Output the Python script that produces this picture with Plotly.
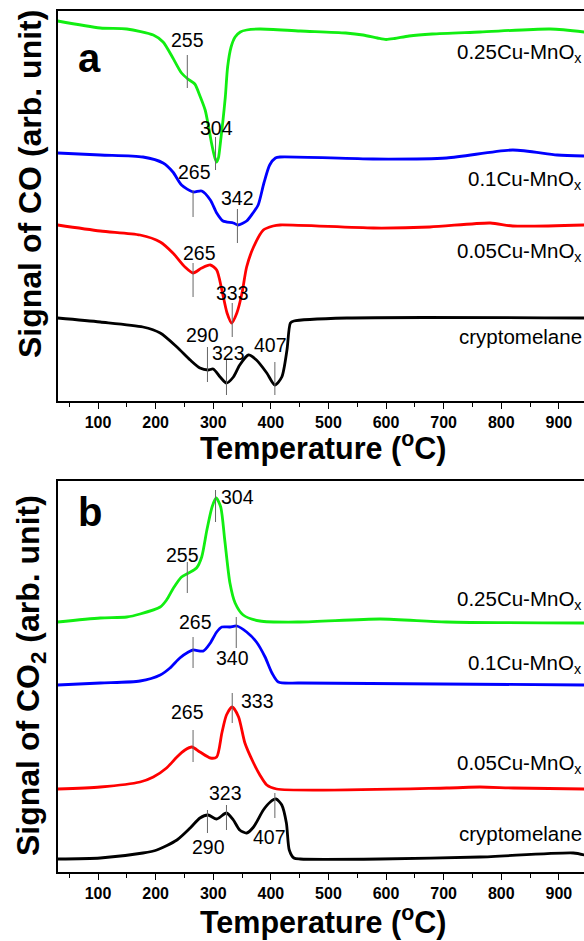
import plotly.graph_objects as go

# ---------------- data (temperature in °C, signal in arb. units incl. offsets) ----------------
# Panel a: CO signal
a_green_T = [30, 104, 150, 196, 213, 230, 245, 256, 268, 277, 286, 292, 297, 303, 306, 309, 313, 317, 321, 325, 331, 338, 347, 358, 381, 451, 530, 560, 585, 600, 615, 640, 680, 763, 885, 944]
a_green_v = [380, 373, 372, 366, 359, 343, 328, 322, 317, 305, 291, 274, 258, 243, 239, 243, 261, 281, 304, 334, 354, 364, 369, 371, 372, 370, 368, 366, 363, 361.5, 362.5, 365, 367, 369, 372, 369]

a_blue_T = [30, 104, 178, 213, 230, 245, 265, 280, 295, 306, 317, 335, 343, 358, 369, 378, 388, 398, 408, 416, 577, 705, 820, 897, 944]
a_blue_v = [248, 246, 244, 238, 229, 216, 209, 210, 201, 188, 180, 178, 176, 180, 188, 196, 218, 236, 243, 244, 242, 243, 251, 246, 245]

a_red_T = [30, 104, 173, 208, 230, 251, 265, 280, 295, 306, 315, 324, 332, 341, 350, 358, 370, 387, 404, 416, 578, 676, 781, 820, 944]
a_red_v = [176, 170, 166, 159, 148, 134, 128, 133, 136, 131, 111, 88, 78, 88, 108, 134, 154, 171, 175, 176, 173, 174, 178, 175, 176]

a_black_T = [30, 104, 178, 208, 237, 260, 277, 291, 300, 312, 323, 335, 346, 361, 375, 393, 407, 419, 428, 434, 440, 532, 944]
a_black_v = [83, 79, 74, 68, 54, 41, 33, 31, 32, 24, 18, 24, 36, 46, 41, 28, 16, 24, 51, 78, 80, 83, 83]

# Panel b: CO2 signal
b_green_T = [30, 104, 150, 173, 208, 219, 231, 245, 257, 271, 280, 289, 298, 305, 313, 320, 329, 338, 352, 381, 451, 590, 705, 944]
b_green_v = [250, 254, 255, 258, 265, 272, 284, 295, 299, 304, 315, 342, 365, 374, 365, 332, 289, 269, 257, 251, 250, 253, 250, 249]

b_blue_T = [30, 104, 173, 208, 225, 242, 257, 265, 283, 295, 306, 315, 329, 341, 358, 375, 390, 402, 413, 451, 944]
b_blue_v = [187, 189, 191, 197, 204, 214, 220, 222, 221, 229, 240, 245, 245, 246, 240, 230, 215, 199, 190, 189, 187]

b_red_T = [30, 104, 173, 196, 219, 237, 251, 263, 277, 295, 306, 315, 323, 333, 344, 355, 370, 381, 393, 410, 705, 763, 821, 944]
b_red_v = [83, 85, 90, 95, 104, 115, 122, 125, 120, 114, 115, 139, 157, 165, 155, 129, 109, 97, 87, 83, 84, 85, 84, 83]

b_black_T = [30, 104, 178, 202, 237, 260, 277, 291, 306, 323, 335, 346, 358, 370, 387, 399, 409, 419, 427, 432, 440, 451, 590, 763, 925, 944]
b_black_v = [13, 14, 19, 22, 32, 44, 54, 57, 53, 59, 52, 42, 39, 45, 62, 70, 73, 67, 49, 22, 14, 13, 13, 15, 19, 17]

series_names = ["0.25Cu-MnO<sub>x</sub>", "0.1Cu-MnO<sub>x</sub>", "0.05Cu-MnO<sub>x</sub>", "cryptomelane"]
series_colors = ["#11ee11", "#0000ff", "#ff0000", "#000000"]

# peak markers: (temperature, line bottom, line top, label, label T, label value)
a_peaks_T = [255, 304, 265, 342, 265, 333, 290, 323, 407]
a_peaks_lo = [313, 231, 184, 158, 104, 64, 19, 6, 6]
a_peaks_hi = [346, 264, 211, 192, 138, 98, 54, 41, 39]
a_peaks_lbl = ["255", "304", "265", "342", "265", "333", "290", "323", "407"]
a_peaks_lblT = [255, 306, 268, 342, 277, 333, 282, 327, 399]
a_peaks_lblv = [361, 273, 229, 203, 148, 108, 66, 48, 56]

b_peaks_T = [304, 255, 265, 340, 333, 265, 323, 290, 407]
b_peaks_lo = [350, 279, 204, 224, 149, 110, 42, 39, 54]
b_peaks_hi = [382, 310, 235, 255, 179, 142, 67, 62, 79]
b_peaks_lbl = ["304", "255", "265", "340", "333", "265", "323", "290", "407"]
b_peaks_lblT = [343, 246, 270, 334, 376, 256, 322, 291, 397]
b_peaks_lblv = [375, 317, 250, 214, 171, 160, 79, 25, 35]

x_tickvals = [100, 200, 300, 400, 500, 600, 700, 800, 900]

# ---------------- figure ----------------
W, H = 584, 941
FONT = "Liberation Sans, Arial, sans-serif"
fig = go.Figure()

panels = [
    ("x", "y", [(a_green_T, a_green_v), (a_blue_T, a_blue_v), (a_red_T, a_red_v), (a_black_T, a_black_v)]),
    ("x2", "y2", [(b_green_T, b_green_v), (b_blue_T, b_blue_v), (b_red_T, b_red_v), (b_black_T, b_black_v)]),
]
for xa, ya, curves in panels:
    for (t, v), col, name in zip(curves, series_colors, series_names):
        fig.add_trace(go.Scatter(x=t, y=v, mode="lines", xaxis=xa, yaxis=ya,
                                 line=dict(color=col, width=2.8, shape="spline", smoothing=0.7),
                                 showlegend=False, hoverinfo="skip"))

shapes = []
annotations = []
lbl_font = dict(family=FONT, size=19.5, color="#000")
for xr, yr, pT, plo, phi, pl, plT, plv in [
    ("x", "y", a_peaks_T, a_peaks_lo, a_peaks_hi, a_peaks_lbl, a_peaks_lblT, a_peaks_lblv),
    ("x2", "y2", b_peaks_T, b_peaks_lo, b_peaks_hi, b_peaks_lbl, b_peaks_lblT, b_peaks_lblv),
]:
    for t, lo, hi, lab, lt, lv in zip(pT, plo, phi, pl, plT, plv):
        shapes.append(dict(type="line", xref=xr, yref=yr, x0=t, x1=t, y0=lo, y1=hi,
                           line=dict(color="#666666", width=1)))
        annotations.append(dict(xref=xr, yref=yr, x=lt, y=lv, text=lab, showarrow=False,
                                font=lbl_font, xanchor="center", yanchor="middle"))

# series labels (pixel y positions converted to paper)
a_lbl_py = [53, 180, 252, 337]
b_lbl_py = [600, 664, 764, 833]
for py, name in zip(a_lbl_py + b_lbl_py, series_names + series_names):
    annotations.append(dict(xref="paper", yref="paper", x=584 / W, y=1 - py / H, text=name,
                            showarrow=False, font=dict(family=FONT, size=20.5, color="#000"),
                            xanchor="right", yanchor="middle"))

bold = dict(family=FONT, color="#000")
# panel letters
annotations.append(dict(xref="paper", yref="paper", x=89 / W, y=1 - 58 / H, text="<b>a</b>", showarrow=False,
                        font=dict(**bold, size=40), xanchor="center", yanchor="middle"))
annotations.append(dict(xref="paper", yref="paper", x=90 / W, y=1 - 512 / H, text="<b>b</b>", showarrow=False,
                        font=dict(**bold, size=40), xanchor="center", yanchor="middle"))
# y titles
annotations.append(dict(xref="paper", yref="paper", x=30 / W, y=1 - 184 / H, text="<b>Signal of CO (arb. unit)</b>",
                        showarrow=False, textangle=-90, font=dict(**bold, size=32), xanchor="center", yanchor="middle"))
annotations.append(dict(xref="paper", yref="paper", x=30 / W, y=1 - 676 / H, text="<b>Signal of CO<sub>2</sub> (arb. unit)</b>",
                        showarrow=False, textangle=-90, font=dict(**bold, size=32), xanchor="center", yanchor="middle"))
# x titles
for py in [447, 920]:
    annotations.append(dict(xref="paper", yref="paper", x=323 / W, y=1 - py / H, text="<b>Temperature (<sup>o</sup>C)</b>",
                            showarrow=False, font=dict(**bold, size=30.5), xanchor="center", yanchor="middle"))

xleft = 57.5 / W
xaxis_common = dict(range=[29.7, 943.6], domain=[xleft, 1.0], showline=True, linecolor="#000", linewidth=1.5,
                    mirror=True, ticks="outside", ticklen=6, tickwidth=1.3, tickcolor="#000",
                    tickvals=x_tickvals, showgrid=False, zeroline=False,
                    tickfont=dict(family=FONT, size=16, color="#000", weight="bold"),
                    minor=dict(dtick=50, tick0=0, ticks="outside", ticklen=4, tickwidth=1.3, tickcolor="#000", showgrid=False))
yaxis_common = dict(showline=True, linecolor="#000", linewidth=1.5, ticks="", showticklabels=False,
                    showgrid=False, zeroline=False, mirror=False)

fig.update_layout(
    width=W, height=H, margin=dict(l=0, r=0, t=0, b=0),
    paper_bgcolor="white", plot_bgcolor="white",
    xaxis=dict(**xaxis_common, anchor="y"),
    yaxis=dict(**yaxis_common, range=[0, 390], domain=[1 - 401 / H, 1 - 11 / H], anchor="x"),
    xaxis2=dict(**xaxis_common, anchor="y2"),
    yaxis2=dict(**yaxis_common, range=[0, 391], domain=[1 - 872 / H, 1 - 481 / H], anchor="x2"),
    shapes=shapes, annotations=annotations,
)

fig.write_html("out.html")
